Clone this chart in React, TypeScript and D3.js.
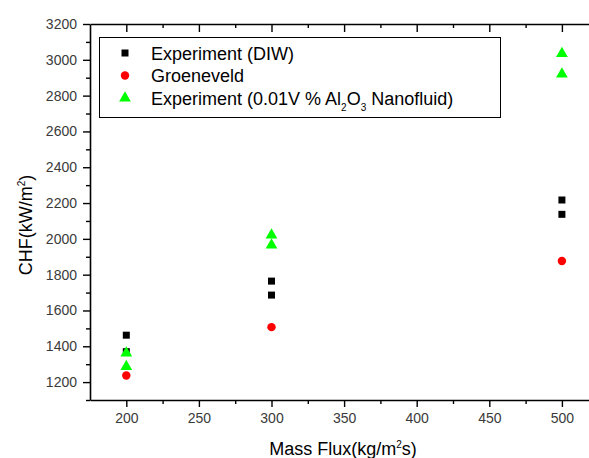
import React, { useRef, useEffect } from "react";
import * as d3 from "d3";

const massFlux = [200, 200, 300, 300, 500, 500];
const diwValues = [1462, 1370, 1764, 1686, 2217, 2137];
const groenMassFlux = [200, 300, 500];
const groenValues = [1237, 1507, 1876];
const nanoValues = [1368, 1292, 2027, 1971, 3040, 2926];

const xTicks = [200, 250, 300, 350, 400, 450, 500];
const yTicks = [1200, 1400, 1600, 1800, 2000, 2200, 2400, 2600, 2800, 3000, 3200];

const App = () => {
  const svgRef = useRef<SVGSVGElement>(null);

  useEffect(() => {
    const svg = d3.select(svgRef.current);
    svg.selectAll("*").remove();
    const height = 458;
    const margin = { top: 24, left: 90, bottom: 58 };
    const font = "'Liberation Sans', Arial, sans-serif";

    const x = d3.scaleLinear().domain([175, 525]).range([margin.left, margin.left + 350 * 1.452]);
    const y = d3.scaleLinear().domain([1100, 3200]).range([height - margin.bottom, margin.top]);
    const bottom = height - margin.bottom;

    // axes
    const xAxis = svg.append("g").attr("transform", `translate(0,${bottom})`);
    xAxis.call(d3.axisBottom(x).tickValues(xTicks).tickSize(7).tickSizeOuter(0).tickPadding(6).tickFormat(d3.format("d")));
    xAxis.append("g").call(
      d3.axisBottom(x).tickValues(d3.range(225, 525, 50)).tickSize(4).tickSizeOuter(0).tickFormat(() => "")
    ).select(".domain").remove();

    const topAxis = svg.append("g").attr("transform", `translate(0,${margin.top})`);
    topAxis.call(d3.axisBottom(x).tickValues(xTicks).tickSize(8).tickSizeOuter(0).tickFormat(() => ""));
    topAxis.append("g").call(
      d3.axisBottom(x).tickValues(d3.range(225, 525, 50)).tickSize(4).tickSizeOuter(0).tickFormat(() => "")
    ).select(".domain").remove();

    const yAxis = svg.append("g").attr("transform", `translate(${margin.left},0)`);
    yAxis.call(d3.axisLeft(y).tickValues(yTicks).tickSize(7).tickSizeOuter(0).tickPadding(6).tickFormat(d3.format("d")));
    yAxis.append("g").call(
      d3.axisLeft(y).tickValues(d3.range(1100, 3200, 200)).tickSize(4).tickSizeOuter(0).tickFormat(() => "")
    ).select(".domain").remove();

    svg.selectAll(".domain").attr("stroke", "#000").attr("stroke-width", 1.6);
    svg.selectAll(".tick line").attr("stroke", "#000").attr("stroke-width", 1.4);
    svg.selectAll(".tick text")
      .style("font-family", font)
      .style("font-size", "14px")
      .attr("fill", "#3a3a3a");

    // axis titles
    const xt = svg.append("text")
      .attr("x", 343)
      .attr("y", 455)
      .attr("text-anchor", "middle")
      .style("font-family", font)
      .style("font-size", "18px")
      .attr("fill", "#000");
    xt.append("tspan").text("Mass Flux(kg/m");
    xt.append("tspan").text("2").attr("dy", -7).style("font-size", "10px");
    xt.append("tspan").text("s)").attr("dy", 7);

    const yt = svg.append("text")
      .attr("transform", `translate(32,225) rotate(-90)`)
      .attr("text-anchor", "middle")
      .style("font-family", font)
      .style("font-size", "18px")
      .attr("fill", "#000");
    yt.append("tspan").text("CHF(kW/m");
    yt.append("tspan").text("2").attr("dy", -7).style("font-size", "10px");
    yt.append("tspan").text(")").attr("dy", 7);

    // data
    const diw = massFlux.map((m, i) => ({ m, v: diwValues[i] }));
    const groen = groenMassFlux.map((m, i) => ({ m, v: groenValues[i] }));
    const nano = massFlux.map((m, i) => ({ m, v: nanoValues[i] }));

    const square = d3.symbol().type(d3.symbolSquare).size(49);
    const circle = d3.symbol().type(d3.symbolCircle).size(56);
    const triangle = d3.symbol().type(d3.symbolTriangle).size(60);

    svg.append("g").selectAll("path").data(diw).enter().append("path")
      .attr("d", square)
      .attr("transform", (d) => `translate(${x(d.m)},${y(d.v)})`)
      .attr("fill", "#000");
    svg.append("g").selectAll("path").data(groen).enter().append("path")
      .attr("d", circle)
      .attr("transform", (d) => `translate(${x(d.m)},${y(d.v)})`)
      .attr("fill", "#ff0000");
    svg.append("g").selectAll("path").data(nano).enter().append("path")
      .attr("d", triangle)
      .attr("transform", (d) => `translate(${x(d.m)},${y(d.v) + 1})`)
      .attr("fill", "#00ff00");

    // legend
    const lg = svg.append("g");
    lg.append("rect")
      .attr("x", 99.5).attr("y", 37.5).attr("width", 401).attr("height", 80)
      .attr("fill", "#fff").attr("stroke", "#000").attr("stroke-width", 1);
    const items = [
      { sym: square, color: "#000", label: "Experiment (DIW)" },
      { sym: circle, color: "#ff0000", label: "Groeneveld" },
      { sym: triangle, color: "#00ff00", label: "" },
    ];
    items.forEach((it, i) => {
      const cy = 53 + i * 22.5;
      lg.append("path").attr("d", it.sym).attr("transform", `translate(125,${cy})`).attr("fill", it.color);
      const t = lg.append("text")
        .attr("x", 151).attr("y", cy + 6.5)
        .style("font-family", font).style("font-size", "18px").attr("fill", "#000");
      if (it.label) {
        t.text(it.label);
      } else {
        t.append("tspan").text("Experiment (0.01V % Al");
        t.append("tspan").text("2").attr("dy", 6).style("font-size", "10px");
        t.append("tspan").text("O").attr("dy", -6);
        t.append("tspan").text("3").attr("dy", 6).style("font-size", "10px");
        t.append("tspan").text(" Nanofluid)").attr("dy", -6);
      }
    });
  }, []);

  return <svg ref={svgRef} width={589} height={458} style={{ position: "absolute", left: 0, top: 0 }} />;
};

export default App;
